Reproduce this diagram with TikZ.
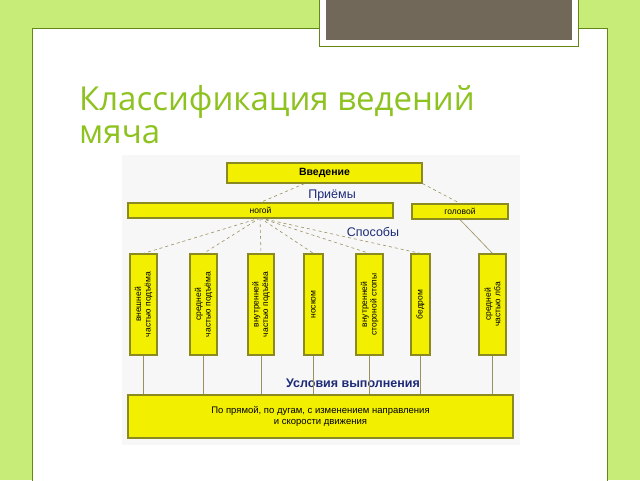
\documentclass[tikz,border=0pt]{standalone}
\usepackage{fontspec}
\setmainfont{Liberation Sans}
\newfontfamily\titlefont{Open Sans}
\usetikzlibrary{positioning}
\definecolor{slidegreen}{HTML}{C8EC78}
\definecolor{titlegreen}{HTML}{8DC21F}
\definecolor{boxyellow}{HTML}{F2F000}
\definecolor{boxedge}{HTML}{8A8A20}
\definecolor{linkgray}{HTML}{9A9060}
\definecolor{labelblue}{HTML}{1C2A78}
\definecolor{capbrown}{HTML}{72685A}
\tikzset{
  ybox/.style={draw=boxedge, fill=boxyellow, line width=1.2pt, inner sep=0pt, font=\fontsize{8.5}{9.5}\selectfont},
  vbox/.style={ybox, minimum width=101pt, rotate=90, align=center, font=\fontsize{8.5}{9.5}\selectfont},
  link/.style={draw=linkgray, line width=0.6pt},
  dlink/.style={link, dashed},
  head/.style={text=labelblue, font=\fontsize{12.5}{14}\selectfont}
}
\begin{document}
\begin{tikzpicture}[x=1pt,y=-1pt]
\useasboundingbox (0,0) rectangle (640,480);
\fill[slidegreen] (0,0) rectangle (640,480);
\draw[fill=white, draw=titlegreen!70!black, line width=0.8pt] (32,28) rectangle (607,482);
\draw[fill=white, draw=titlegreen!70!black, line width=0.8pt] (319,-2) rectangle (578,46);
\fill[capbrown] (326,-2) rectangle (572,40);
\node[anchor=base west, text=titlegreen, font=\titlefont\fontsize{33}{33}\selectfont, align=left, inner sep=0pt] (title) at (79,143) {Классификация ведений\\мяча};
\fill[gray!6] (122,155) rectangle (520,445);

\node[ybox, minimum width=195pt, minimum height=20pt, font=\bfseries\fontsize{10.5}{12}\selectfont] (intro) at (324.5,173) {Введение};
\node[head] (ways) at (332,195) {Приёмы};
\node[ybox, minimum width=265pt, minimum height=15pt] (foot) at (260.5,210.5) {ногой};
\node[ybox, minimum width=96pt, minimum height=15pt] (head) at (460,211.5) {головой};
\node[head] (kinds) at (373,232) {Способы};

\node[vbox, minimum height=27pt] (v1) at (143.5,304.5) {внешней\\частью подъёма};
\node[vbox, minimum height=27pt] (v2) at (203.5,304.5) {средней\\частью подъёма};
\node[vbox, minimum height=26pt] (v3) at (261,304.5) {внутренней\\частью подъёма};
\node[vbox, minimum height=19pt] (v4) at (313.5,304.5) {носком};
\node[vbox, minimum height=27pt] (v5) at (369.5,304.5) {внутренней\\стороной стопы};
\node[vbox, minimum height=19pt] (v6) at (420.5,304.5) {бедром};
\node[vbox, minimum height=27pt] (v7) at (492.5,304.5) {средней\\частью лба};

\node[head, font=\bfseries\fontsize{12.5}{14}\selectfont] (terms) at (353,383) {Условия выполнения};
\node[ybox, minimum width=385pt, minimum height=43pt, align=center, font=\fontsize{9.5}{10.5}\selectfont] (cond) at (320.5,416.5) {По прямой, по дугам, с изменением направления\\и скорости движения};

% links
\coordinate (fhub) at (260,218);
\draw[dlink] (intro.south) ++(-20,0) -- (foot.north);
\draw[dlink] (intro.south east) -- (head.north);
\foreach \v in {v1,v2,v3,v4,v5,v6}
  \draw[dlink] (fhub) -- (\v.east);
\draw[link] (head.south) -- (v7.east);
\foreach \v in {v1,v2,v3,v4,v5,v6,v7}
  \draw[link] (\v.west) -- (\v.west |- cond.north);
\end{tikzpicture}
\end{document}
